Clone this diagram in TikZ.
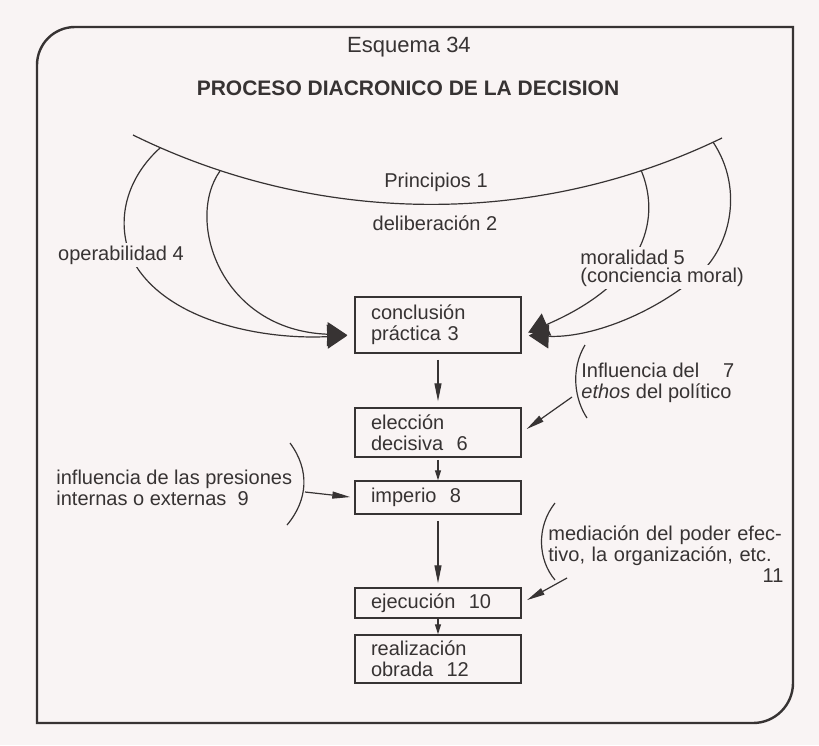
\documentclass[tikz,border=0pt]{standalone}
\usepackage{fontspec}
\setmainfont{Liberation Sans}
\usetikzlibrary{positioning}
\usetikzlibrary{arrows.meta}
\definecolor{papel}{RGB}{249,244,244}
\definecolor{tinta}{RGB}{55,51,51}

\begin{document}
\begin{tikzpicture}[x=0.5pt,y=-0.5pt,color=tinta,
  font=\fontsize{10}{10.5}\selectfont,
  caja/.style={draw,line width=0.75pt,inner xsep=8pt,inner ysep=2pt,
    text width=67pt,align=left},
  etiqueta/.style={inner sep=1.5pt},
  tapa/.style={etiqueta,fill=papel},
  curva/.style={line width=0.6pt},
  punta/.style={curva,-{Triangle[length=9pt,width=3.5pt]}},
  puntacorta/.style={curva,-{Triangle[length=5pt,width=3pt]}},
  gruesa/.style={curva,-{Triangle[length=10pt,width=12pt]},shorten >=3.5pt}]

% ==================== Fondo y marco ====================
\fill[papel] (0,0) rectangle (819,745);
\draw[line width=1.2pt] (400,27) [rounded corners=19pt] -- (37,27) -- (37,200)
  [sharp corners] -- (37,723) -- (400,723) [rounded corners=20pt] -- (793,723)
  -- (793,500) [sharp corners] -- (793,27) -- cycle;

% Titulos
\node (esq) at (409,47) {\fontsize{11}{13}\selectfont Esquema 34};
\node (tit) at (408,88) {\fontsize{10.5}{12}\selectfont\bfseries PROCESO DIACRONICO DE LA DECISION};

% ==================== Cajas ====================
\node[caja,minimum height=28pt] (c3) at (438,325) {conclusión\\práctica 3};
\node[caja,minimum height=24.5pt] (e6) at (438,432.5) {elección\\decisiva\ \ 6};
\node[caja,minimum height=16.5pt] (i8) at (438,497.5) {imperio\ \ 8};
\node[caja,minimum height=15pt] (j10) at (438,603) {ejecución\ \ 10};
\node[caja,minimum height=24pt] (r12) at (438,659) {realización\\obrada\ \ 12};

% Flechas verticales
\draw[punta,shorten <=3pt,shorten >=3pt] (c3) -- (e6);
\draw[puntacorta,shorten <=1pt] (e6) -- (i8);
\draw[punta,shorten <=3pt,shorten >=2pt] (i8) -- (j10);
\draw[puntacorta] (j10) -- (r12);

% ==================== Arco de los principios ====================
\coordinate (pi) at (133,135);
\coordinate (pd) at (722,138);
\draw[curva] (pi) .. controls (318,226) and (536,228) .. (pd);
\node[etiqueta] (l1) at (436,182) {Principios 1};
\node[etiqueta] (l2) at (435,223) {deliberación 2};

% Operabilidad (izquierda)
\coordinate (a4) at (160,148);
\coordinate (b4) at (220,171);
\draw[gruesa] (a4) .. controls (130,175) and (115,215) .. (130,255)
  .. controls (160,320) and (260,340) .. (c3.187);
\draw[gruesa] (b4) .. controls (185,220) and (220,330) .. (c3.187);

% Moralidad (derecha)
\coordinate (a5) at (713,142);
\coordinate (b5) at (641,170);
\draw[gruesa] (a5) .. controls (745,190) and (730,250) .. (695,278)
  .. controls (650,315) and (590,338) .. (c3.-7);
\draw[gruesa] (b5) .. controls (660,215) and (650,280) .. (c3.-7);

\node[tapa] (l4) at (121,255) {operabilidad 4};
\node[tapa,anchor=west] (l5) at (577,257) {moralidad 5};
\node[tapa,anchor=west] (l5b) at (577,277) {(conciencia moral)};

% ==================== Influencias laterales ====================
% ethos del politico
\draw[curva] (585,345) .. controls (570,370) and (575,400) .. (587,418);
\coordinate (s7) at (572,397);
\draw[punta,shorten >=3pt] (s7) -- (e6.east);
\node[etiqueta,anchor=west,align=left] (l7) at (578,383)
  {Influencia del\hspace{1.2em}7\\\textit{ethos} del político};

% presiones
\draw[curva] (290,443) .. controls (310,470) and (308,500) .. (287,525);
\coordinate (s9) at (305,492);
\draw[punta,shorten >=2pt] (s9) -- (i8.west);
\node[etiqueta,anchor=west,align=left] (l9) at (53,488)
  {influencia de las presiones\\internas o externas\ \ 9};

% poder efectivo
\draw[curva] (555,503) .. controls (536,527) and (538,560) .. (555,580);
\coordinate (s11) at (567,578);
\draw[punta,shorten >=3pt] (s11) -- (j10.east);
\node[etiqueta,anchor=west,text width=117.5pt,align=left] (l11) at (545,554)
  {\makebox[\linewidth][s]{mediación del poder efec-}\\
   \makebox[\linewidth][s]{tivo, la organización, etc.}\\
   \hspace*{\fill}11};

\end{tikzpicture}
\end{document}
